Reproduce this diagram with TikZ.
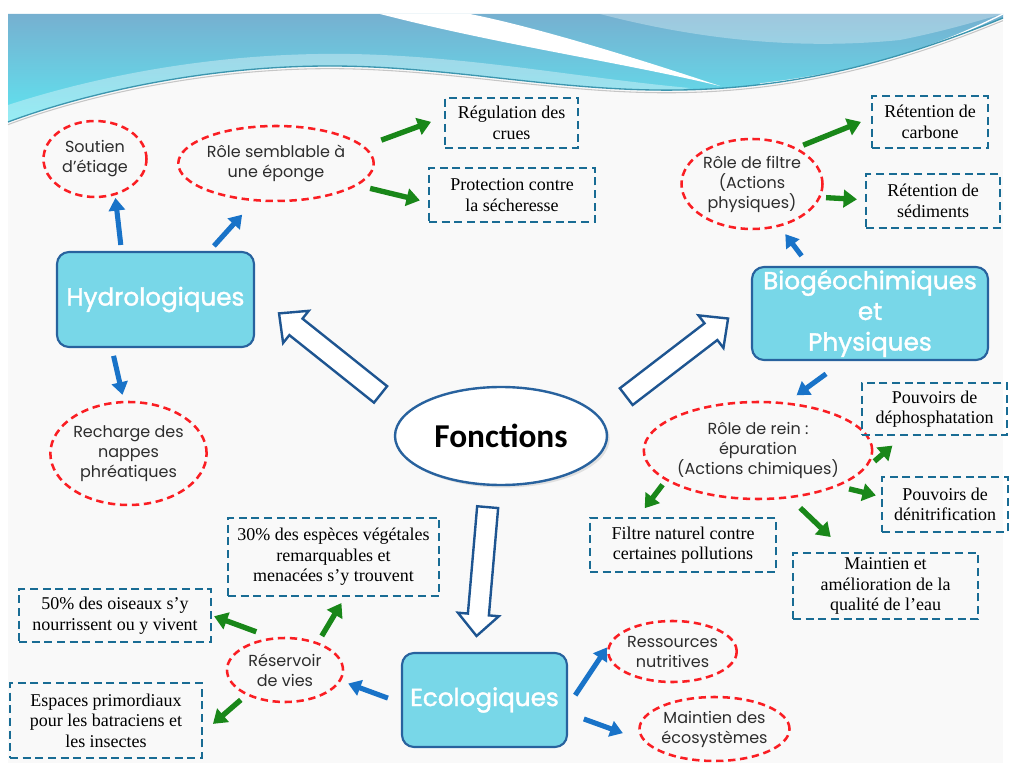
\documentclass[tikz,border=0pt]{standalone}
\usepackage{fontspec}
\usetikzlibrary{shapes.geometric,arrows.meta,calc,shadows}
\newfontfamily\gothic{Poppins}
\newfontfamily\gothicmed[FakeBold=1.5]{Poppins}
\newfontfamily\serifb{Liberation Serif}
\newfontfamily\calib{Carlito}
\definecolor{redd}{RGB}{250,30,35}
\definecolor{bdash}{RGB}{25,108,148}
\definecolor{boxfill}{RGB}{120,215,232}
\definecolor{boxline}{RGB}{40,98,158}
\definecolor{barr}{RGB}{25,115,200}
\definecolor{garr}{RGB}{25,135,25}
\definecolor{txtg}{RGB}{45,45,45}
\definecolor{hdrtop}{RGB}{118,176,208}
\definecolor{hdrbot}{RGB}{95,228,240}
\definecolor{slidebg}{RGB}{249,249,249}
\definecolor{hollowc}{RGB}{30,85,145}
\definecolor{wave}{RGB}{60,150,175}
\begin{document}
\begin{tikzpicture}[x=0.75pt,y=-0.75pt,
 redell/.style 2 args={ellipse, draw=redd, line width=1.9pt, dash pattern=on 5.5pt off 3.5pt,
   minimum width=#1*0.75pt, minimum height=#2*0.75pt, inner sep=0pt, align=center,
   text=txtg, font=\gothic\fontsize{12}{15}\selectfont},
 dbox/.style 2 args={rectangle, draw=bdash, line width=1.6pt, dash pattern=on 6pt off 3.5pt,
   minimum width=#1*0.75pt, minimum height=#2*0.75pt, inner sep=0pt, align=center,
   text=black, font=\serifb\fontsize{13.5}{15.4}\selectfont},
 titlebox/.style 2 args={rectangle, rounded corners=9pt, draw=boxline, line width=1.6pt, fill=boxfill,
   minimum width=#1*0.75pt, minimum height=#2*0.75pt, inner sep=0pt, align=center,
   text=white, font=\gothicmed\fontsize{18.5}{23}\selectfont},
 barrow/.style={draw=barr, line width=3.8pt, -{Triangle[length=9.5pt,width=12pt]}},
 garrow/.style={draw=garr, line width=4pt, -{Triangle[length=10pt,width=13pt]}},
 hollowline/.style={draw=hollowc, line width=1.8pt, fill=white, line join=miter}
]
% page and slide
\fill[white] (0,0) rectangle (1010,766);
\fill[slidebg] (8,14) rectangle (1003,763);
% header wave
\shade[top color=hdrtop, bottom color=hdrbot] (8,14) -- (1003,14) -- (1003,18)
  .. controls (900,60) and (800,88) .. (680,90)
  .. controls (560,92) and (450,66) .. (330,66)
  .. controls (200,66) and (80,95) .. (8,122) -- cycle;
\fill[white, opacity=0.35] (8,105) .. controls (100,75) and (220,52) .. (350,54)
  .. controls (470,56) and (580,78) .. (690,88)
  -- (680,90) .. controls (560,92) and (450,66) .. (330,66)
  .. controls (200,66) and (80,95) .. (8,122) -- cycle;
\fill[white, opacity=0.3] (600,14) .. controls (700,40) and (800,50) .. (900,40)
  .. controls (950,30) and (980,20) .. (1003,14) -- cycle;
\fill[white] (380,14) .. controls (500,45) and (620,62) .. (720,86)
  .. controls (600,46) and (520,24) .. (470,14) -- cycle;
\draw[white, line width=1pt] (760,84) .. controls (880,70) and (950,40) .. (1003,14);
\draw[white, line width=0.8pt] (800,82) .. controls (900,62) and (960,36) .. (1003,22);
\draw[wave, line width=1pt] (1003,18)
  .. controls (900,60) and (800,88) .. (680,90)
  .. controls (560,92) and (450,66) .. (330,66)
  .. controls (200,66) and (80,95) .. (8,122);
\draw[gray!45, line width=0.8pt, yshift=-2pt] (1003,18)
  .. controls (900,60) and (800,88) .. (680,90)
  .. controls (560,92) and (450,66) .. (330,66)
  .. controls (200,66) and (80,95) .. (8,122);

% nodes
\node[redell={103}{76}] (soutien) at (95,159) {Soutien\\d’étiage};
\node[redell={168}{75}] (eponge) at (276,163.5) {Rôle semblable à\\une éponge};
\node[dbox={133}{50}] (regul) at (511.5,123) {Régulation des\\crues};
\node[dbox={166}{54}] (protec) at (512,195) {Protection contre\\la sécheresse};
\node[titlebox={197}{95}] (hyd) at (155.5,299.5) {Hydrologiques};
\node[redell={145}{103}] (recharge) at (128.5,453.5) {Recharge des\\nappes\\phréatiques};
\node[ellipse, draw=boxline, line width=1.8pt, fill=white, minimum width=212*0.75pt,
  minimum height=98*0.75pt, font=\calib\bfseries\fontsize{25}{28}\selectfont,
  drop shadow={opacity=0.2, shadow xshift=2pt, shadow yshift=-2pt}] (fon) at (501,436) {Fonctions};
\node[titlebox={236}{93}] (bio) at (870,313.5) {Biogéochimiques\\et\\Physiques};
\node[redell={141}{90}] (filtre) at (752,184) {Rôle de filtre\\(Actions\\physiques)};
\node[dbox={116}{52}] (carbone) at (930,122) {Rétention de\\carbone};
\node[dbox={134}{54}] (sediments) at (933,201) {Rétention de\\sédiments};
\node[redell={190}{97}] (rein) at (758,450.5) {Rôle de rein :\\épuration\\(Actions chimiques)};
\node[dbox={145}{52}] (deph) at (934.5,409) {Pouvoirs de\\déphosphatation};
\node[dbox={126}{55}] (denit) at (945,504.5) {Pouvoirs de\\dénitrification};
\node[dbox={186}{54}] (filtrenat) at (683,545) {Filtre naturel contre\\certaines pollutions};
\node[dbox={185}{66}] (maintq) at (885.5,586) {Maintien et\\amélioration de la\\qualité de l’eau};
\node[titlebox={165}{94}] (eco) at (484.5,700) {Ecologiques};
\node[redell={115}{61}] (ress) at (672.5,651.5) {Ressources\\nutritives};
\node[redell={138}{64}] (maineco) at (714.5,729) {Maintien des\\écosystèmes};
\node[redell={116}{64}] (reserv) at (285,670) {Réservoir\\de vies};
\node[dbox={211}{78}] (p30) at (333.5,557) {30\% des espèces végétales\\remarquables et\\menacées s’y trouvent};
\node[dbox={192}{53}] (p50) at (115,615.5) {50\% des oiseaux s’y\\nourrissent ou y vivent};
\node[dbox={192}{75}] (espaces) at (106,720.5) {Espaces primordiaux\\pour les batraciens et\\les insectes};

% hollow block arrows from Fonctions
\coordinate (t1) at ($(fon.167)!23.3pt!(hyd.3)$);
\coordinate (p1) at ($(hyd.3)!23pt!(fon.167)$);
\coordinate (b1) at ($(p1)!16.2pt!(t1)$);
\coordinate (t2) at ($(fon.11)!24.8pt!(bio.174)$);
\coordinate (p2) at ($(bio.174)!21.6pt!(fon.11)$);
\coordinate (b2) at ($(p2)!16.2pt!(t2)$);
\coordinate (t3) at ($(fon.-103)!16pt!(eco.101)$);
\coordinate (p3) at ($(eco.101)!12pt!(fon.-103)$);
\coordinate (b3) at ($(p3)!16.2pt!(t3)$);
\foreach \i in {1,2,3}{
  \draw[hollowline] ($(t\i)!7.9pt!90:(p\i)$) -- ($(b\i)!7.9pt!-90:(t\i)$)
    -- ($(b\i)!15.4pt!-90:(t\i)$) -- (p\i) -- ($(b\i)!15.4pt!90:(t\i)$)
    -- ($(b\i)!7.9pt!90:(t\i)$) -- ($(t\i)!7.9pt!-90:(p\i)$) -- cycle;
}

% small arrows
\draw[barrow, shorten <=4.5pt, shorten >=2pt] (hyd.125) -- (soutien.-61);
\draw[barrow, shorten <=5pt, shorten >=13.5pt] (hyd.42) -- (eponge.-120);
\draw[barrow, shorten <=6pt, shorten >=4.6pt] (hyd.228) -- (recharge.95);
\draw[garrow, shorten <=13.3pt, shorten >=10.3pt] (eponge.11) -- (regul.175);
\draw[garrow, shorten <=9.6pt, shorten >=6.2pt] (eponge.-15) -- (protec.185);
\draw[barrow, shorten <=9.4pt, shorten >=7pt] (bio.142) -- (filtre.-57);
\draw[garrow, shorten <=5.3pt, shorten >=8.1pt] (filtre.39) -- (carbone.176);
\draw[garrow, shorten <=4pt, shorten >=6pt] (filtre.-11) -- (sediments.179);
\draw[barrow, shorten <=16.3pt, shorten >=8.9pt] (bio.241) -- (rein.59);
\draw[garrow, shorten <=12.8pt, shorten >=10.9pt] (rein.-12) -- (deph.-139);
\draw[garrow, shorten <=8.3pt, shorten >=3.9pt] (rein.-24) -- (denit.173);
\draw[garrow, shorten <=10.4pt, shorten >=16.2pt] (rein.-56) -- (maintq.139);
\draw[garrow, shorten <=4pt, shorten >=8.2pt] (rein.198) -- (filtrenat.148);
\draw[barrow, shorten <=9.6pt, shorten >=8.6pt] (eco.-4) -- (ress.167);
\draw[barrow, shorten <=12.6pt, shorten >=15.9pt] (eco.-9) -- (maineco.189);
\draw[barrow, shorten <=10.4pt, shorten >=5.7pt] (eco.182) -- (reserv.-11);
\draw[garrow, shorten <=5.6pt, shorten >=5.2pt] (reserv.40) -- (p30.-74);
\draw[garrow, shorten <=12.5pt, shorten >=1.6pt] (reserv.112) -- (p50.0);
\draw[garrow, shorten <=5.4pt, shorten >=9.8pt] (reserv.213) -- (espaces.-7);
\end{tikzpicture}
\end{document}
